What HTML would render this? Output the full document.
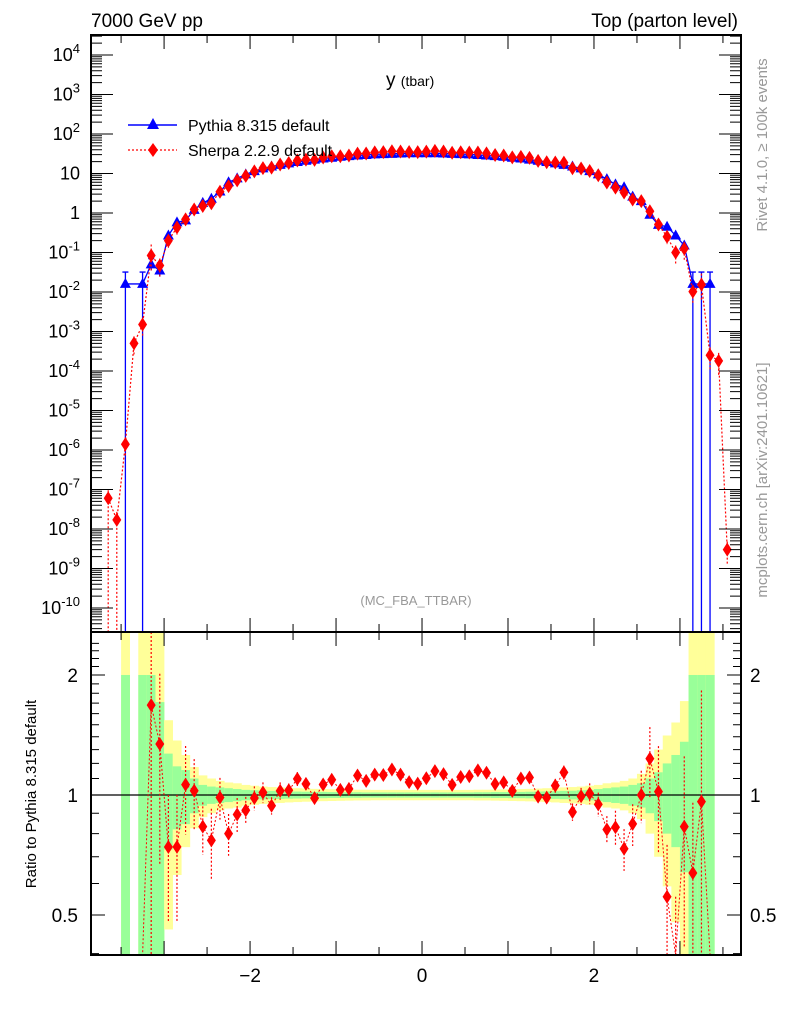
<!DOCTYPE html>
<html><head><meta charset="utf-8"><style>
body{margin:0;background:#fff;}
svg{display:block;font-family:"Liberation Sans",sans-serif;}
</style></head><body>
<svg id="chart" width="786" height="1024" viewBox="0 0 786 1024">
<g id="bands"></g>
<g id="main"></g>
<g id="ratio"></g>
<g id="axes"></g>
<text x="91" y="27" font-size="19">7000 GeV pp</text>
<text x="738" y="27" font-size="19" text-anchor="end">Top (parton level)</text>
<text x="386" y="86" font-size="19">y <tspan font-size="14">(tbar)</tspan></text>
<text x="416" y="605" font-size="13" fill="#999" text-anchor="middle">(MC_FBA_TTBAR)</text>
<text transform="translate(767,145) rotate(-90)" font-size="15" fill="#999" text-anchor="middle">Rivet 4.1.0, ≥ 100k events</text>
<text transform="translate(767,480) rotate(-90)" font-size="15" fill="#999" text-anchor="middle">mcplots.cern.ch [arXiv:2401.10621]</text>
<text transform="translate(36,794) rotate(-90)" font-size="15" text-anchor="middle">Ratio to Pythia 8.315 default</text>
<g>
<line x1="128" y1="125" x2="177" y2="125" stroke="#00f" stroke-width="1.5"/>
<polygon points="153,118 147,129 159,129" fill="#00f"/>
<text x="188" y="131" font-size="16">Pythia 8.315 default</text>
<line x1="128" y1="150" x2="177" y2="150" stroke="#f00" stroke-width="1.3" stroke-dasharray="2,2"/>
<polygon points="153,143 158,150 153,157 148,150" fill="#f00"/>
<text x="188" y="156" font-size="16">Sherpa 2.2.9 default</text>
</g>
</svg>
<script>
const pythiaCenters=[-3.45,-3.35,-3.25,-3.15,-3.05,-2.95,-2.85,-2.75,-2.65,-2.55,-2.45,-2.35,-2.25,-2.15,-2.05,-1.95,-1.85,-1.75,-1.65,-1.55,-1.45,-1.35,-1.25,-1.15,-1.05,-0.95,-0.85,-0.75,-0.65,-0.55,-0.45,-0.35,-0.25,-0.15,-0.05,0.05,0.15,0.25,0.35,0.45,0.55,0.65,0.75,0.85,0.95,1.05,1.15,1.25,1.35,1.45,1.55,1.65,1.75,1.85,1.95,2.05,2.15,2.25,2.35,2.45,2.55,2.65,2.75,2.85,2.95,3.05,3.15,3.25,3.35,3.45];
const pythiaValues=[0.016,0,0.016,0.05,0.035,0.27,0.58,0.65,1.2,1.8,2.3,3.5,6,7.5,9.5,11.5,13.5,15,16.5,18,19.5,21,22.5,24,25,26.5,27.5,28.5,29.5,30.5,31,31.5,32,32.5,32.5,32.5,32.5,32,31.5,31,30.5,29.5,28.5,27.5,26.5,25,24,22.5,21,19.5,18,16.5,15,13.5,11.5,9.5,7.2,5.3,4.5,2.6,2.0,0.9,0.5,0.45,0.27,0.15,0.016,0.016,0.016,0];
const bandYellow=[2,0,2,2,2,0.54,0.37,0.26,0.175,0.12,0.10,0.085,0.075,0.07,0.06,0.055,0.05,0.047,0.045,0.042,0.04,0.038,0.036,0.035,0.034,0.033,0.032,0.031,0.031,0.03,0.03,0.03,0.03,0.03,0.03,0.03,0.03,0.03,0.03,0.03,0.03,0.031,0.031,0.032,0.033,0.034,0.035,0.036,0.038,0.04,0.042,0.045,0.047,0.05,0.055,0.06,0.07,0.075,0.085,0.10,0.13,0.2,0.3,0.41,0.52,0.72,2,2,2,0];
const bandGreen=[1,0,1,1,0.71,0.27,0.18,0.155,0.10,0.06,0.05,0.045,0.04,0.035,0.03,0.028,0.025,0.024,0.022,0.021,0.02,0.019,0.018,0.018,0.017,0.017,0.016,0.016,0.015,0.015,0.015,0.015,0.015,0.015,0.015,0.015,0.015,0.015,0.015,0.015,0.015,0.016,0.016,0.017,0.017,0.018,0.018,0.019,0.02,0.021,0.022,0.024,0.025,0.028,0.03,0.035,0.04,0.045,0.05,0.06,0.07,0.1,0.14,0.2,0.26,0.36,1,1,1,0];
const sherpaCenters=[-3.65,-3.55,-3.45,-3.35,-3.25,-3.15,-3.05,-2.95,-2.85,-2.75,-2.65,-2.55,-2.45,-2.35,-2.25,-2.15,-2.05,-1.95,-1.85,-1.75,-1.65,-1.55,-1.45,-1.35,-1.25,-1.15,-1.05,-0.95,-0.85,-0.75,-0.65,-0.55,-0.45,-0.35,-0.25,-0.15,-0.05,0.05,0.15,0.25,0.35,0.45,0.55,0.65,0.75,0.85,0.95,1.05,1.15,1.25,1.35,1.45,1.55,1.65,1.75,1.85,1.95,2.05,2.15,2.25,2.35,2.45,2.55,2.65,2.75,2.85,2.95,3.05,3.15,3.25,3.35,3.45,3.55];
const sherpaValues=[6e-8,1.7e-8,1.4e-6,5e-4,1.5e-3,0.084,0.047,0.20,0.43,0.69,1.23,1.5,1.77,3.45,4.8,6.7,8.7,11.3,13.7,14.1,16.9,18.5,21.4,22.4,22.1,25.5,27.3,27.3,28.5,31.9,32.0,34.3,34.8,36.5,36.0,35.0,34.7,35.8,37.3,36.1,33.4,34.4,34.0,34.0,32.4,29.3,28.5,25.6,26.4,24.9,20.8,19.2,19.0,18.8,13.6,13.4,11.6,9.0,5.9,4.4,3.3,2.2,2.0,1.11,0.51,0.25,0.1,0.125,0.0102,0.0154,2.5e-4,1.8e-4,3e-9];
const sherpaRelErr=[0.6,0.6,0.5,0.5,0.5,0.9,0.5,0.35,0.35,0.25,0.2,0.15,0.2,0.12,0.12,0.1,0.08,0.07,0.06,0.05,0.05,0.04,0.04,0.035,0.03,0.03,0.03,0.03,0.025,0.025,0.02,0.02,0.02,0.02,0.02,0.02,0.02,0.02,0.02,0.02,0.02,0.02,0.02,0.02,0.02,0.02,0.025,0.025,0.03,0.03,0.03,0.035,0.04,0.04,0.05,0.05,0.06,0.07,0.08,0.1,0.12,0.12,0.15,0.2,0.3,0.35,0.5,0.5,0.5,0.9,0.6,0.6,0.6];
const mainTickExps=[4,3,2,1,0,-1,-2,-3,-4,-5,-6,-7,-8,-9,-10];
const mainTickLabels=["10^4","10^3","10^2","10","1","10^-1","10^-2","10^-3","10^-4","10^-5","10^-6","10^-7","10^-8","10^-9","10^-10"];
const ratioTicks=[2,1,0.5];
const xTicks=[-2,0,2];

const NS="http://www.w3.org/2000/svg";
const X0=91,X1=741,MT=35,MB=632,RB=955;
const xmin=-3.85,xmax=3.71;
function sx(v){return X0+(v-xmin)/(xmax-xmin)*(X1-X0);}
function sy(v){return 213-39.5*Math.log10(v);}
function ry(v){return 795-398.7*Math.log10(v);}
function el(tag,attrs,parent){const e=document.createElementNS(NS,tag);for(const k in attrs)e.setAttribute(k,attrs[k]);parent.appendChild(e);return e;}
const gM=document.getElementById('main'),gR=document.getElementById('ratio'),gB=document.getElementById('bands'),gA=document.getElementById('axes');
const hw=0.05;
function clampM(y){return Math.max(MT,Math.min(MB,y));}
function clampR(y){return Math.max(MB,Math.min(RB,y));}
pythiaCenters.forEach((c,i)=>{
  if(pythiaValues[i]<=0)return;
  const x=sx(c-hw),w=sx(c+hw)-sx(c-hw);
  const yU=clampR(ry(1+bandYellow[i])),yL=bandYellow[i]>=1?RB:clampR(ry(1-bandYellow[i]));
  const r1=el('rect',{x:x,y:yU,width:w+0.3,height:yL-yU,fill:'#ffff99'},gB);
  
  
  const gU=clampR(ry(1+bandGreen[i])),gL=bandGreen[i]>=1?RB:clampR(ry(1-bandGreen[i]));
  const r2=el('rect',{x:x,y:gU,width:w+0.3,height:gL-gU,fill:'#99ff99'},gB);
  
  
});
const l1=el('line',{x1:X0,x2:X1,y1:ry(1),y2:ry(1),stroke:'#000','stroke-width':1.2},gR);


let d='';
pythiaCenters.forEach((c,i)=>{const v=pythiaValues[i];if(v<=0)return;d+=(d?'L':'M')+sx(c)+','+sy(v);});
const pl=el('path',{d:d,fill:'none',stroke:'#00f','stroke-width':1.3},gM);


pythiaCenters.forEach((c,i)=>{
  const v=pythiaValues[i];if(v<=0)return;
  const x=sx(c),y=sy(v);
  if(v<0.06){
    const lo=v<0.02?MB:sy(v*0.7);
    const eb=el('path',{d:`M${x},${sy(v<0.02?2*v:v*1.4)}L${x},${lo}M${x-3},${sy(v<0.02?2*v:v*1.4)}L${x+3},${sy(v<0.02?2*v:v*1.4)}`,stroke:'#00f','stroke-width':1.3,fill:'none'},gM);
    
    
  }
  const m=el('polygon',{points:`${x},${y-6} ${x-5.5},${y+4} ${x+5.5},${y+4}`,fill:'#00f'},gM);
  
  
});
d='';
sherpaCenters.forEach((c,i)=>{d+=(d?'L':'M')+sx(c)+','+clampM(sy(sherpaValues[i]));});
const sl=el('path',{d:d,fill:'none',stroke:'#f00','stroke-width':1.2,'stroke-dasharray':'2,2'},gM);


sherpaCenters.forEach((c,i)=>{
  const v=sherpaValues[i],x=sx(c),y=sy(v),e=sherpaRelErr[i];
  if(e>0.1){
    const lo=(i<2)?MB:clampM(sy(v*(1-Math.min(e,0.6))));
    const eb=el('line',{x1:x,x2:x,y1:clampM(sy(v*(1+e))),y2:lo,stroke:'#f00','stroke-width':1.2,'stroke-dasharray':'2,2'},gM);
    
    
  }
  if(y>MB)return;
  const m=el('polygon',{points:`${x},${y-7} ${x+4.5},${y} ${x},${y+7} ${x-4.5},${y}`,fill:'#f00'},gM);
  
  
});
let rd='';
sherpaCenters.forEach((c,i)=>{
  const j=pythiaCenters.indexOf(c);if(j<0||pythiaValues[j]<=0)return;
  const r=sherpaValues[i]/pythiaValues[j],x=sx(c),e=sherpaRelErr[i];
  const y=ry(r);
  rd+=(rd?'L':'M')+x+','+clampR(y);
  const eb=el('line',{x1:x,x2:x,y1:clampR(ry(r*(1+e))),y2:clampR(e>=0.9?RB:ry(r*(1-e))),stroke:'#f00','stroke-width':1.2,'stroke-dasharray':'2,2'},gR);
  
  
  if(y<MB||y>RB)return;
  const m=el('polygon',{points:`${x},${y-7} ${x+4.5},${y} ${x},${y+7} ${x-4.5},${y}`,fill:'#f00'},gR);
  
  
});
const rl=el('path',{d:rd,fill:'none',stroke:'#f00','stroke-width':1,'stroke-dasharray':'2,2'},gR);


[[MT,MB],[MB,RB]].forEach(([t,b],k)=>{
  const f=el('rect',{x:X0,y:t,width:X1-X0,height:b-t,fill:'none',stroke:'#000','stroke-width':2},gA);
  
  
});
let td='';
for(let v=-3.5;v<=3.5;v+=0.5){const x=sx(v),L=Number.isInteger(v)?14:8;
  [[MT,1],[MB,-1],[MB,1],[RB,-1]].forEach(([y,s])=>{td+=`M${x},${y}L${x},${y+s*L}`;});}
for(let e=-11;e<=4;e++){for(let m=1;m<10;m++){const y=sy(m*Math.pow(10,e));if(y<MT||y>MB)continue;const L=m==1?22:11;td+=`M${X0},${y}L${X0+L},${y}M${X1},${y}L${X1-L},${y}`;}}
for(let v=0.4;v<=2.5;v+=0.1){const y=ry(v);if(y<MB||y>RB)continue;const L=(Math.abs(v-1)<1e-6||Math.abs(v-2)<1e-6||Math.abs(v-0.5)<1e-6)?14:8;td+=`M${X0},${y}L${X0+L},${y}M${X1},${y}L${X1-L},${y}`;}
const tp=el('path',{d:td,stroke:'#000','stroke-width':1,fill:'none'},gA);


mainTickExps.forEach((e,i)=>{
  const y=sy(Math.pow(10,e));const t=el('text',{x:80,y:y+6,'font-size':18,'text-anchor':'end'},gA);
  const lab=mainTickLabels[i];
  if(lab.indexOf('^')>0){const [b,p]=lab.split('^');t.textContent=b;const ts=el('tspan',{dy:-8,'font-size':13},t);ts.textContent=p;}
  else t.textContent=lab;
  
  
});
ratioTicks.forEach(v=>{
  const y=ry(v);
  const a=el('text',{x:78,y:y+7,'font-size':19,'text-anchor':'end'},gA);a.textContent=String(v);
  
  
  const b=el('text',{x:750,y:y+7,'font-size':19},gA);b.textContent=String(v);
  
  
});
xTicks.forEach(v=>{
  const t=el('text',{x:sx(v),y:982,'font-size':19,'text-anchor':'middle'},gA);t.textContent=v<0?'\u2212'+(-v):String(v);
  
  
});
</script>
</body></html>
